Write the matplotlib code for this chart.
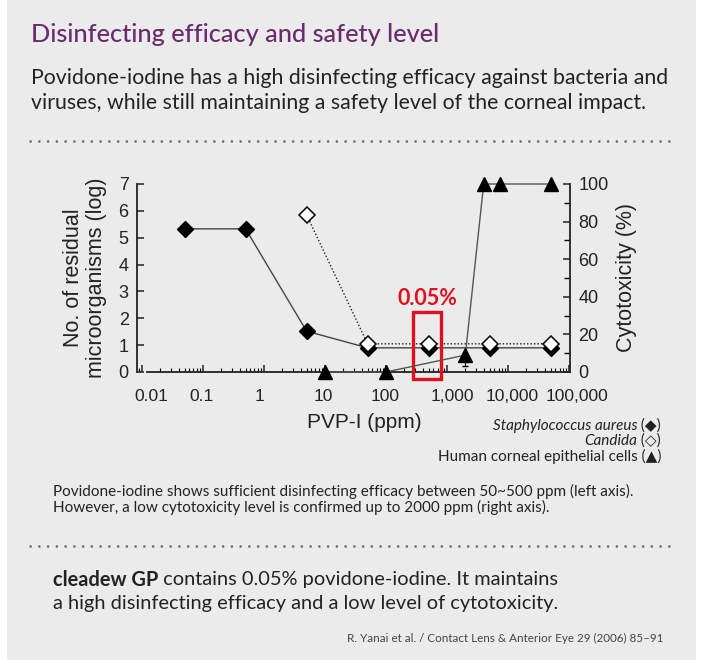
import matplotlib.pyplot as plt
import numpy as np
from matplotlib.patches import Rectangle
from matplotlib.lines import Line2D
from matplotlib.ticker import FixedLocator, LogLocator, NullFormatter
from matplotlib.transforms import ScaledTranslation

W, H = 701, 664

# data
staph_x = [0.05, 0.5, 5, 50, 500, 5000, 50000]
staph_y = [5.33, 5.33, 1.52, 0.9, 0.9, 0.9, 0.9]
candida_x = [5, 50, 500, 5000, 50000]
candida_y = [5.85, 1.05, 1.05, 1.05, 1.05]
cell_x = [10, 100, 2000, 4000, 7500, 50000]
cell_y = [0, 0, 9, 100, 100, 100]
xticks = [0.01, 0.1, 1, 10, 100, 1000, 10000, 100000]
xticklabels = ['0.01', '0.1', '1', '10', '100', '1,000', '10,000', '100,000']
# the scanned figure has its tick labels a bit off their ticks (pixels)
label_dx = [9, -1, -4, -2, -1, 5, 4, 8]

head = ['Lato', 'DejaVu Sans']
chartf = ['Liberation Sans', 'DejaVu Sans']

def fx(x):
    return x / W

def fy(y):
    return 1 - y / H

fig = plt.figure(figsize=(W / 100, H / 100), dpi=100)
fig.patch.set_facecolor('white')
fig.patches.append(Rectangle((fx(7), fy(660)), fx(689), 660 / H, transform=fig.transFigure,
                             facecolor='#ebebeb', edgecolor='none', zorder=-10))

fig.text(fx(31), fy(34), 'Disinfecting efficacy and safety level', family=head, fontsize=18.2,
         fontweight='medium', color='#6a2a6c', va='center', ha='left')
fig.text(fx(31), fy(78), 'Povidone-iodine has a high disinfecting efficacy against bacteria and',
         family=head, fontsize=15.3, color='#222222', va='center')
fig.text(fx(31), fy(103), 'viruses, while still maintaining a safety level of the corneal impact.',
         family=head, fontsize=15.3, color='#222222', va='center')

for yy in (141, 546):
    fig.add_artist(Line2D([fx(30), fx(673)], [fy(yy), fy(yy)], transform=fig.transFigure,
                          color='#666666', lw=1.8, linestyle=(0, (0.1, 3.4)),
                          dash_capstyle='round'))

# chart
ax = fig.add_axes([fx(137), fy(372), (570 - 137) / W, (372 - 184) / H])
ax.set_facecolor('none')
ax.set_xscale('log')
ax.set_xlim(0.0083, 1.04e5)
ax.set_ylim(0, 7)
for s in ('top', 'right'):
    ax.spines[s].set_visible(False)
ax.spines['bottom'].set_bounds(0.012, 1.04e5)
for s in ('left', 'bottom'):
    ax.spines[s].set_linewidth(1.3)
    ax.spines[s].set_color('#222222')

ax.plot(staph_x, staph_y, color='#444444', lw=1, zorder=3, clip_on=False)
ax.plot(staph_x, staph_y, 'D', ms=8, color='black', zorder=4, clip_on=False)
ax.errorbar([staph_x[0]], [staph_y[0]], yerr=0.15, fmt='none', ecolor='black', lw=1, zorder=3)
ax.plot(candida_x, candida_y, color='#222222', lw=1, linestyle=(0, (1, 1.5)), zorder=5, clip_on=False)
ax.plot(candida_x, candida_y, 'D', ms=8, mfc='white', mec='black', mew=1.1, zorder=6, clip_on=False)

ax.set_xticks(xticks)
ax.set_xticklabels(xticklabels)
ax.xaxis.set_minor_locator(LogLocator(base=10, subs=np.arange(2, 10)))
ax.xaxis.set_minor_formatter(NullFormatter())
ax.set_yticks(range(8))
ax.tick_params(axis='both', which='major', direction='in', length=5, width=1.1, labelsize=13,
               colors='#222222', pad=6)
ax.tick_params(axis='x', which='major', pad=12, labelsize=12.6)
ax.tick_params(axis='x', which='minor', direction='in', length=3, width=0.8)
for t in ax.get_xticklabels() + ax.get_yticklabels():
    t.set_family(chartf)
ax.set_xlabel('PVP-I (ppm)', family=chartf, fontsize=15, color='#222222')
ax.xaxis.set_label_coords(0.524, -0.22)
ax.set_ylabel('No. of residual\nmicroorganisms (log)', family=chartf, fontsize=15.5,
              color='#222222', labelpad=8, linespacing=1.15)

ax2 = ax.twinx()
ax2.set_ylim(0, 100)
for s in ('top', 'left', 'bottom'):
    ax2.spines[s].set_visible(False)
ax2.spines['right'].set_linewidth(1.3)
ax2.spines['right'].set_color('#222222')
ax2.set_yticks(range(0, 101, 20))
ax2.yaxis.set_minor_locator(FixedLocator(range(10, 100, 20)))
ax2.tick_params(axis='y', which='major', direction='in', length=5, width=1.1, labelsize=13,
                colors='#222222', pad=6)
ax2.tick_params(axis='y', which='minor', direction='in', length=4, width=1.0)
for t in ax2.get_yticklabels():
    t.set_family(chartf)
ax2.set_ylabel('Cytotoxicity (%)', family=chartf, fontsize=15.5, color='#222222', labelpad=5)
ax2.plot(cell_x, cell_y, color='#555555', lw=1, zorder=3, clip_on=False)
ax2.errorbar([cell_x[2]], [cell_y[2]], yerr=[[6], [0]], fmt='none', ecolor='black', lw=0.8,
             capsize=2.5, zorder=3)
ax2.plot(cell_x, cell_y, '^', ms=10, color='black', zorder=4, clip_on=False)

# highlight box
ax.add_patch(Rectangle((277, -0.26), 798 - 277, 2.49, fill=False, edgecolor='#e0101e', lw=2.4,
                       zorder=7, clip_on=False))
ax.text(470, 2.75, '0.05%', family=head, fontsize=15.5, fontweight='bold', color='#e0101e',
        ha='center', va='center')

fig.canvas.draw()
r = fig.canvas.get_renderer()
for tick, dx in zip(ax.xaxis.get_major_ticks(), label_dx):
    lab = tick.label1
    lab.set_transform(lab.get_transform() + ScaledTranslation(dx / 100, 0, fig.dpi_scale_trans))

# legend
leg = [('Staphylococcus aureus', ' (◆)', 426), ('Candida', ' (◇)', 441),
       ('', 'Human corneal epithelial cells (▲)', 456)]
for ital, norm, yy in leg:
    t = fig.text(fx(661), fy(yy), norm, family=head, fontsize=11, color='#222222',
                 ha='right', va='center')
    if ital:
        bb = t.get_window_extent(r)
        fig.text(bb.x0 / W, fy(yy), ital, family=head, fontsize=11, style='italic',
                 color='#222222', ha='right', va='center')

fig.text(fx(53), fy(491), 'Povidone-iodine shows sufficient disinfecting efficacy between 50~500 ppm (left axis).',
         family=head, fontsize=11, color='#222222', va='center')
fig.text(fx(53), fy(507), 'However, a low cytotoxicity level is confirmed up to 2000 ppm (right axis).',
         family=head, fontsize=11, color='#222222', va='center')

b = fig.text(fx(53), fy(580), 'cleadew GP', family=head, fontsize=14.4, fontweight='bold',
             color='#222222', va='center')
bb = b.get_window_extent(r)
fig.text(bb.x1 / W, fy(580), ' contains 0.05% povidone-iodine. It maintains', family=head,
         fontsize=14.4, color='#222222', va='center')
fig.text(fx(53), fy(603), 'a high disinfecting efficacy and a low level of cytotoxicity.', family=head,
         fontsize=14.4, color='#222222', va='center')
fig.text(fx(663), fy(638), 'R. Yanai et al. / Contact Lens & Anterior Eye 29 (2006) 85–91', family=head,
         fontsize=8.4, color='#444444', ha='right', va='center')

fig.savefig('out.png', dpi=100, facecolor='white')
